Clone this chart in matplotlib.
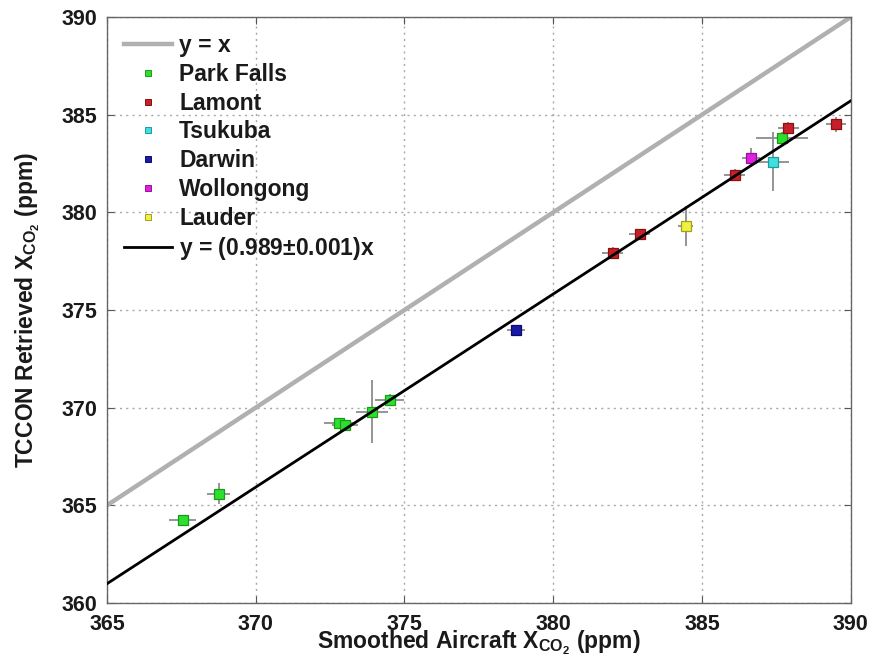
import matplotlib
matplotlib.use("Agg")
import matplotlib.pyplot as plt
import numpy as np

plt.rcParams['font.family'] = ['Liberation Sans', 'DejaVu Sans']
plt.rcParams['font.weight'] = 'bold'
plt.rcParams['mathtext.fontset'] = 'custom'
plt.rcParams['mathtext.rm'] = 'Liberation Sans:bold'
plt.rcParams['mathtext.bf'] = 'Liberation Sans:bold'
plt.rcParams['mathtext.it'] = 'Liberation Sans:bold'

# Site comparisons: aircraft (x) vs TCCON (y), with uncertainties
park_falls_x = [367.55, 368.75, 372.8, 373.0, 373.9, 374.5, 387.7]
park_falls_y = [364.25, 365.6, 369.2, 369.1, 369.8, 370.4, 383.8]
park_falls_xerr = [0.45, 0.38, 0.5, 0.45, 0.53, 0.5, 0.87]
park_falls_yerr = [0.15, 0.55, 0.2, 0.2, 1.63, 0.3, 0.3]

lamont_x = [382.0, 382.9, 386.1, 387.9, 389.5]
lamont_y = [377.9, 378.9, 381.9, 384.3, 384.5]
lamont_xerr = [0.35, 0.35, 0.35, 0.35, 0.35]
lamont_yerr = [0.3, 0.2, 0.3, 0.3, 0.4]

tsukuba_x = [387.4]
tsukuba_y = [382.6]
tsukuba_xerr = [0.53]
tsukuba_yerr = [1.5]

darwin_x = [378.75]
darwin_y = [374.0]
darwin_xerr = [0.3]
darwin_yerr = [0.2]

wollongong_x = [386.65]
wollongong_y = [382.8]
wollongong_xerr = [0.3]
wollongong_yerr = [0.5]

lauder_x = [384.45]
lauder_y = [379.3]
lauder_xerr = [0.25]
lauder_yerr = [1.0]

fit_slope = 0.989
x_ticks = [365, 370, 375, 380, 385, 390]
y_ticks = [360, 365, 370, 375, 380, 385, 390]

fig = plt.figure(figsize=(8.71, 6.67), dpi=100)
ax = fig.add_axes([0.1228, 0.096, 0.854, 0.8785])

ax.set_xlim(365, 390)
ax.set_ylim(360, 390)

line_x = np.array([365, 390])
h_one, = ax.plot(line_x, line_x, color='#b0b0b0', lw=3.2, zorder=2, label='y = x')

sites = [
    ('Park Falls', park_falls_x, park_falls_y, park_falls_xerr, park_falls_yerr, '#2ee02e', '#1a9a1a'),
    ('Lamont', lamont_x, lamont_y, lamont_xerr, lamont_yerr, '#c8202a', '#8a1010'),
    ('Tsukuba', tsukuba_x, tsukuba_y, tsukuba_xerr, tsukuba_yerr, '#40e0e0', '#209a9a'),
    ('Darwin', darwin_x, darwin_y, darwin_xerr, darwin_yerr, '#1a1aa8', '#0a0a70'),
    ('Wollongong', wollongong_x, wollongong_y, wollongong_xerr, wollongong_yerr, '#e020e0', '#9a109a'),
    ('Lauder', lauder_x, lauder_y, lauder_xerr, lauder_yerr, '#f0f040', '#a0a020'),
]

handles = [h_one]
for name, xs, ys, xe, ye, fc, ec in sites:
    ax.errorbar(xs, ys, xerr=xe, yerr=ye, fmt='none', ecolor='#8c8c8c',
                elinewidth=1.3, capsize=0, zorder=3)
    ax.plot(xs, ys, linestyle='none', marker='s', markersize=7,
            markerfacecolor=fc, markeredgecolor=ec, markeredgewidth=0.9, zorder=4)
    h, = ax.plot([], [], linestyle='none', marker='s', markersize=5,
                 markerfacecolor=fc, markeredgecolor=ec, markeredgewidth=0.7,
                 label=name)
    handles.append(h)

h_fit, = ax.plot(line_x, fit_slope * line_x, color='black', lw=2.0, zorder=5,
                 label='y = (0.989$\\pm$0.001)x')
handles.append(h_fit)

ax.set_xticks(x_ticks)
ax.set_yticks(y_ticks)
ax.tick_params(direction='in', length=5, width=0.8, colors='#555555',
               labelcolor='#1a1a1a', labelsize=15.5, top=True, right=True)
ax.tick_params(axis='x', pad=8)
ax.tick_params(axis='y', pad=7)
for lab in ax.get_xticklabels() + ax.get_yticklabels():
    lab.set_fontweight('bold')

ax.grid(True, linestyle=(0, (1.5, 3)), color='#a8a8a8', linewidth=1.0, zorder=0)
for sp in ax.spines.values():
    sp.set_color('#666666')
    sp.set_linewidth(1.0)

ax.set_xlabel(r'Smoothed Aircraft X$_{\mathrm{CO}_{2}}$ (ppm)', fontsize=16.5,
              fontweight='bold', color='#1a1a1a', labelpad=-5)
ax.set_ylabel(r'TCCON Retrieved X$_{\mathrm{CO}_{2}}$ (ppm)', fontsize=16.5,
              fontweight='bold', color='#1a1a1a', labelpad=14)

leg = ax.legend(handles=handles, loc='upper left', frameon=False,
                prop={'size': 16.5, 'weight': 'bold'}, handlelength=2.1,
                handletextpad=0.3, labelspacing=0.25, borderpad=0.4,
                borderaxespad=0.35)
for t in leg.get_texts():
    t.set_color('#1a1a1a')

fig.savefig('out.png', dpi=100, facecolor='white')
